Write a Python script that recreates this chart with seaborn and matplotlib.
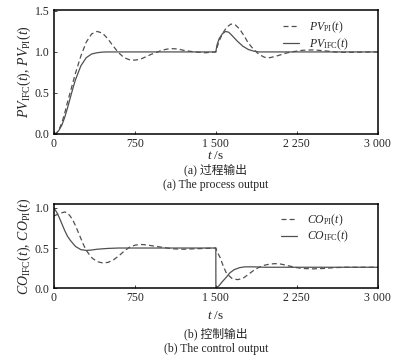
import pandas as pd
import seaborn as sns
import matplotlib.pyplot as plt

# process output, IFC (solid)
t_pv_ifc = [0, 25, 50, 75, 100, 125, 150, 175, 200, 250, 300, 350, 400, 450, 500,
            1500, 1510, 1530, 1560, 1590, 1620, 1650, 1700, 1750, 1800, 1850, 1900, 3000]
pv_ifc = [0, 0.01, 0.05, 0.11, 0.2, 0.31, 0.43, 0.55, 0.66, 0.83, 0.93, 0.975, 0.99, 0.998, 1.0,
          1.0, 1.08, 1.16, 1.22, 1.25, 1.24, 1.2, 1.13, 1.07, 1.03, 1.01, 1.0, 1.0]

# process output, PI (dashed)
t_pv_pi = [0, 25, 50, 75, 100, 125, 150, 175, 200, 250, 300, 350, 400, 450, 500, 550, 600,
           650, 700, 750, 800, 850, 900, 950, 1000, 1050, 1100, 1150, 1200, 1250, 1300, 1350,
           1400, 1450, 1500, 1510, 1530, 1560, 1600, 1640, 1680, 1720, 1760, 1800, 1850, 1900,
           1950, 2000, 2050, 2100, 2150, 2200, 2300, 2400, 2500, 2600, 2700, 3000]
pv_pi = [0, 0.01, 0.06, 0.14, 0.25, 0.38, 0.5, 0.62, 0.74, 0.95, 1.12, 1.22, 1.25, 1.23, 1.16,
         1.07, 0.99, 0.93, 0.905, 0.9, 0.91, 0.94, 0.97, 0.995, 1.02, 1.035, 1.04, 1.035, 1.02,
         1.01, 1.0, 0.995, 0.99, 0.995, 1.0, 1.05, 1.13, 1.22, 1.3, 1.34, 1.33, 1.28, 1.2, 1.11,
         1.03, 0.97, 0.935, 0.93, 0.945, 0.965, 0.985, 1.0, 1.02, 1.025, 1.015, 1.0, 0.995, 1.0]

# control output, IFC (solid)
t_co_ifc = [0, 25, 50, 75, 100, 125, 150, 175, 200, 250, 300, 350, 400, 500, 600,
            1500, 1500.5, 1530, 1560, 1600, 1630, 1670, 1720, 1770, 1850, 1950, 3000]
co_ifc = [1.0, 0.95, 0.88, 0.8, 0.72, 0.65, 0.6, 0.56, 0.52, 0.48, 0.47, 0.475, 0.485, 0.495, 0.5,
          0.5, 0.0, 0.03, 0.08, 0.14, 0.19, 0.23, 0.255, 0.265, 0.265, 0.26, 0.26]

# control output, PI (dashed)
t_co_pi = [0, 50, 100, 125, 150, 175, 200, 225, 250, 275, 300, 350, 400, 450, 500, 550, 600,
           650, 700, 750, 800, 850, 900, 950, 1000, 1100, 1200, 1300, 1400, 1500,
           1510, 1540, 1570, 1600, 1650, 1700, 1750, 1800, 1850, 1900, 1950, 2000, 2050, 2100,
           2150, 2200, 2250, 2300, 2400, 2500, 2600, 2700, 3000]
co_pi = [0.9, 0.93, 0.95, 0.94, 0.9, 0.85, 0.78, 0.7, 0.62, 0.54, 0.47, 0.38, 0.33, 0.315, 0.32,
         0.35, 0.4, 0.46, 0.51, 0.535, 0.545, 0.54, 0.53, 0.52, 0.51, 0.49, 0.485, 0.49, 0.495, 0.5,
         0.46, 0.38, 0.27, 0.18, 0.12, 0.105, 0.12, 0.17, 0.22, 0.26, 0.285, 0.3, 0.305, 0.3,
         0.285, 0.27, 0.255, 0.245, 0.24, 0.245, 0.255, 0.26, 0.26]

xticks = [0, 750, 1500, 2250, 3000]
xticklabels = ['0', '750', '1 500', '2 250', '3 000']

sns.set_style('ticks')
plt.rcParams['font.family'] = ['Liberation Serif', 'Noto Sans CJK SC']
plt.rcParams['mathtext.fontset'] = 'custom'
plt.rcParams['mathtext.rm'] = 'Liberation Serif'
plt.rcParams['mathtext.it'] = 'Liberation Serif:italic'
plt.rcParams['font.size'] = 8.5

fig = plt.figure(figsize=(4.08, 3.61), dpi=100)
ax1 = fig.add_axes([0.132, 0.629, 0.794, 0.343])
ax2 = fig.add_axes([0.132, 0.202, 0.794, 0.233])

col = '#505050'
dash = (4, 2.5)


def draw(ax, t_pi, y_pi, t_ifc, y_ifc, lab_pi, lab_ifc, xpad):
    d1 = pd.DataFrame({'t': t_pi, 'y': y_pi})
    d2 = pd.DataFrame({'t': t_ifc, 'y': y_ifc})
    sns.lineplot(data=d1, x='t', y='y', ax=ax, color=col, lw=0.9, label=lab_pi,
                 sort=False, estimator=None)
    sns.lineplot(data=d2, x='t', y='y', ax=ax, color=col, lw=0.9, label=lab_ifc,
                 sort=False, estimator=None)
    ax.lines[0].set_dashes(dash)
    ax.set_xlim(0, 3000)
    ax.set_xticks(xticks)
    ax.set_xticklabels(xticklabels)
    ax.tick_params(direction='in', length=2.5, width=0.6, labelsize=8.5, pad=3)
    for s in ax.spines.values():
        s.set_linewidth(1.1)
        s.set_color('black')
    ax.set_xlabel(r'$t$ /s', labelpad=xpad, fontsize=9.5)
    leg = ax.legend(loc='upper right', bbox_to_anchor=(0.93, 0.97), frameon=False,
                    handlelength=1.3, handletextpad=0.9, labelspacing=0.1, borderpad=0,
                    fontsize=8.5)
    for h in leg.get_lines():
        h.set_linewidth(0.9)


draw(ax1, t_pv_pi, pv_pi, t_pv_ifc, pv_ifc, r'$PV_{\rm PI}(t)$', r'$PV_{\rm IFC}(t)$', 0)
ax1.set_ylim(0, 1.51)
ax1.set_yticks([0, 0.5, 1.0, 1.5])
ax1.set_yticklabels(['0.0', '0.5', '1.0', '1.5'])
ax1.set_ylabel(r'$PV_{\rm IFC}(t)$, $PV_{\rm PI}(t)$', labelpad=1, fontsize=10)

draw(ax2, t_co_pi, co_pi, t_co_ifc, co_ifc, r'$CO_{\rm PI}(t)$', r'$CO_{\rm IFC}(t)$', 4)
ax2.set_ylim(0, 1.05)
ax2.set_yticks([0, 0.5, 1.0])
ax2.set_yticklabels(['0.0', '0.5', '1.0'])
ax2.set_ylabel(r'$CO_{\rm IFC}(t)$, $CO_{\rm PI}(t)$', labelpad=1, fontsize=10)

fig.text(0.529, 1 - 170 / 361, '(a) 过程输出', ha='center', va='center', fontsize=8.5)
fig.text(0.529, 1 - 185 / 361, '(a) The process output', ha='center', va='center', fontsize=8.5)
fig.text(0.529, 1 - 334 / 361, '(b) 控制输出', ha='center', va='center', fontsize=8.5)
fig.text(0.529, 1 - 349 / 361, '(b) The control output', ha='center', va='center', fontsize=8.5)

fig.savefig('out.png', dpi=100)
